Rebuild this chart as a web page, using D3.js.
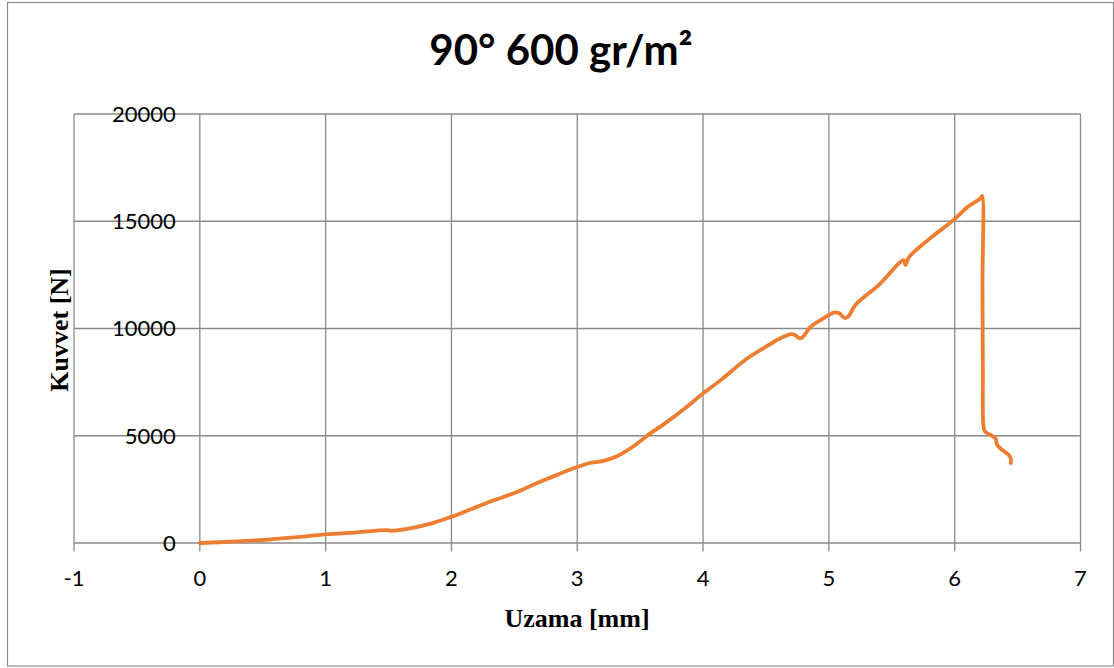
<!DOCTYPE html>
<html>
<head>
<meta charset="utf-8">
<script src="https://cdn.jsdelivr.net/npm/d3@7"></script>
<style>
  html, body { margin: 0; padding: 0; background: #fff; }
  svg { display: block; }
</style>
</head>
<body>
<svg id="chart" width="1114" height="668"></svg>
<script>
// Force–elongation curve (tensile test, 90°, 600 gr/m²)
const elongation = [
  0, 0.25, 0.5, 0.75, 1.0, 1.25, 1.48, 1.52, 1.7, 1.85,
  2.0, 2.15, 2.33, 2.5, 2.7, 2.85, 3.0, 3.1, 3.2, 3.32,
  3.45, 3.55, 3.7, 3.85, 4.0, 4.15, 4.35, 4.5, 4.6, 4.7,
  4.73, 4.77, 4.8, 4.85, 4.95, 5.04, 5.08, 5.13, 5.16, 5.21,
  5.4, 5.595, 5.608, 5.64, 5.8, 6.0, 6.1, 6.205, 6.218, 6.221,
  6.224, 6.228, 6.24, 6.28, 6.3, 6.325, 6.338, 6.38, 6.43, 6.445,
  6.446
];
const force = [
  0, 60, 140, 260, 400, 500, 600, 570, 720, 930,
  1220, 1560, 1980, 2330, 2840, 3200, 3540, 3730, 3820, 4060,
  4520, 4980, 5590, 6250, 6970, 7640, 8600, 9150, 9500, 9740,
  9700, 9540, 9650, 10050, 10450, 10740, 10720, 10480, 10600, 11090,
  12050, 13190, 12960, 13350, 14180, 15100, 15650, 16070, 16180, 12000,
  8000, 5500, 5200, 5050, 4980, 4880, 4570, 4330, 4100, 3950,
  3720
];

const xTicks = [-1, 0, 1, 2, 3, 4, 5, 6, 7];
const yTicks = [0, 5000, 10000, 15000, 20000];

const chartTitle = "90° 600 gr/m²";
const xTitle = "Uzama [mm]";
const yTitle = "Kuvvet [N]";

const svg = d3.select("#chart");
const plot = { left: 74, right: 1080.5, top: 114, bottom: 543 };

// outer chart frame
svg.append("rect")
  .attr("x", 7.5).attr("y", 2.5)
  .attr("width", 1106).attr("height", 663.5)
  .attr("fill", "#fff")
  .attr("stroke", "#8c8c8c").attr("stroke-width", 1.2);

const x = d3.scaleLinear().domain([-1, 7]).range([plot.left, plot.right]);
const y = d3.scaleLinear().domain([0, 20000]).range([plot.bottom, plot.top]);

const gridColor = "#8a8a8a";

// vertical gridlines (extend below the baseline as tick marks)
svg.append("g").selectAll("line").data(xTicks).join("line")
  .attr("x1", d => x(d)).attr("x2", d => x(d))
  .attr("y1", plot.top).attr("y2", plot.bottom + 8.5)
  .attr("stroke", gridColor).attr("stroke-width", 1.3);

// horizontal gridlines
svg.append("g").selectAll("line").data(yTicks).join("line")
  .attr("x1", plot.left).attr("x2", plot.right)
  .attr("y1", d => y(d)).attr("y2", d => y(d))
  .attr("stroke", gridColor).attr("stroke-width", 1.3);

// y tick labels sit next to the axis crossing at x = 0
svg.append("g").selectAll("text").data(yTicks).join("text")
  .attr("x", x(0) - 24)
  .attr("y", d => y(d))
  .attr("dy", "0.36em")
  .attr("text-anchor", "end")
  .attr("font-family", "Lato, 'Open Sans', sans-serif")
  .attr("font-size", 22)
  .attr("fill", "#000")
  .text(d => d);

// x tick labels
svg.append("g").selectAll("text").data(xTicks).join("text")
  .attr("x", d => x(d))
  .attr("y", 586)
  .attr("text-anchor", "middle")
  .attr("font-family", "Lato, 'Open Sans', sans-serif")
  .attr("font-size", 22)
  .attr("fill", "#000")
  .text(d => d);

// data curve
const pts = elongation.map((e, i) => [e, force[i]]);
const line = d3.line()
  .x(d => x(d[0]))
  .y(d => y(d[1]))
  .curve(d3.curveCatmullRom.alpha(0.5));

svg.append("path")
  .datum(pts)
  .attr("d", line)
  .attr("fill", "none")
  .attr("stroke", "#ED7D31")
  .attr("stroke-width", 3.8)
  .attr("stroke-linejoin", "round")
  .attr("stroke-linecap", "round");

// titles
svg.append("text")
  .attr("x", 561).attr("y", 65)
  .attr("text-anchor", "middle")
  .attr("font-family", "Lato, 'Open Sans', sans-serif")
  .attr("font-weight", "bold")
  .attr("font-size", 42)
  .attr("fill", "#000")
  .text(chartTitle);

svg.append("text")
  .attr("x", 577).attr("y", 627)
  .attr("text-anchor", "middle")
  .attr("font-family", "'Liberation Serif', 'Times New Roman', serif")
  .attr("font-weight", "bold")
  .attr("font-size", 26)
  .attr("fill", "#000")
  .text(xTitle);

svg.append("text")
  .attr("transform", "translate(68,330) rotate(-90)")
  .attr("text-anchor", "middle")
  .attr("font-family", "'Liberation Serif', 'Times New Roman', serif")
  .attr("font-weight", "bold")
  .attr("font-size", 26)
  .attr("fill", "#000")
  .text(yTitle);
</script>
</body>
</html>
